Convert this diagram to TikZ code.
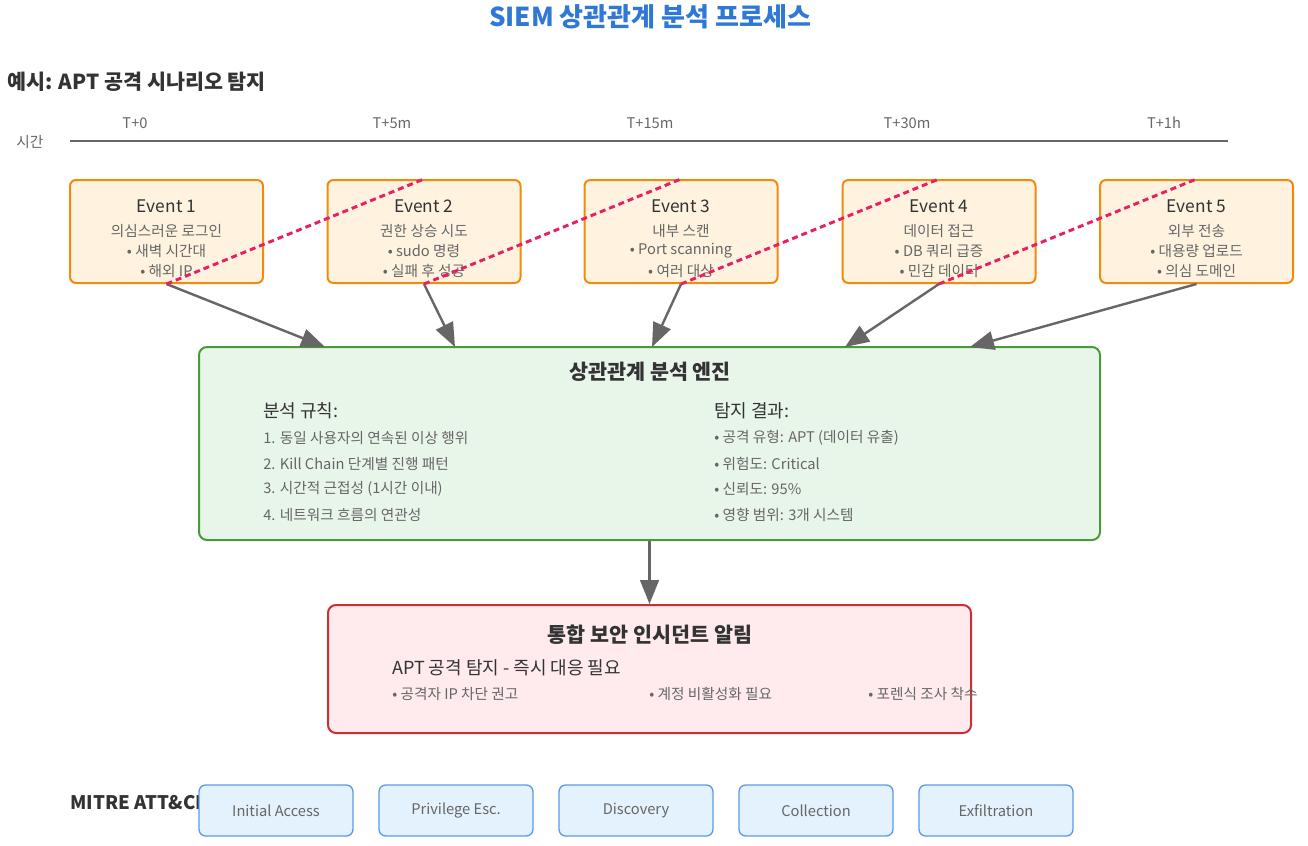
\documentclass[tikz,border=0pt]{standalone}
\usepackage{fontspec}
\setmainfont{Noto Sans CJK KR}
\usetikzlibrary{arrows.meta}
\definecolor{titleblue}{HTML}{2F78D6}
\definecolor{dark}{HTML}{333333}
\definecolor{mid}{HTML}{666666}
\definecolor{evfill}{HTML}{FFF3E0}
\definecolor{evline}{HTML}{F28A0E}
\definecolor{engfill}{HTML}{E8F5E9}
\definecolor{engline}{HTML}{4A9A3C}
\definecolor{alfill}{HTML}{FFEBEE}
\definecolor{alline}{HTML}{CC2E33}
\definecolor{mifill}{HTML}{E3F2FD}
\definecolor{miline}{HTML}{5A9BE6}
\definecolor{pinkd}{HTML}{E91E63}
\newcommand{\fs}[1]{\fontsize{#1pt}{#1pt}\selectfont}
\tikzset{
  evbox/.style={draw=evline, fill=evfill, line width=1.5pt, rounded corners=4.5pt, minimum width=144.75pt, minimum height=77.25pt, inner sep=0pt},
  engbox/.style={draw=engline, fill=engfill, line width=1.5pt, rounded corners=6pt, minimum width=675.75pt, minimum height=144.75pt, inner sep=0pt},
  albox/.style={draw=alline, fill=alfill, line width=1.5pt, rounded corners=6pt, minimum width=482.25pt, minimum height=96pt, inner sep=0pt},
  mibox/.style={draw=miline, fill=mifill, line width=1pt, rounded corners=5pt, minimum width=115.5pt, minimum height=38.25pt, inner sep=0pt, text=mid, font=\fs{11}},
  evtitle/.style={text=dark, font=\fs{13}, inner sep=0pt},
  evline/.style={text=mid, font=\fs{11}, inner sep=0pt},
  tline/.style={text=mid, font=\fs{11}, inner sep=0pt},
  head/.style={text=dark, font=\bfseries\fs{15.5}, inner sep=0pt},
  subhead/.style={text=dark, font=\fs{13.5}, inner sep=0pt, anchor=west},
  item/.style={text=mid, font=\fs{11}, inner sep=0pt, anchor=west},
  flow/.style={draw=mid, line width=1.8pt, -{Triangle[length=18pt,width=14pt]}},
  link/.style={draw=pinkd, line width=2.2pt, dash pattern=on 4.5pt off 3pt}
}
\begin{document}
\begin{tikzpicture}[x=0.75pt,y=-0.75pt]
\useasboundingbox (0,0) rectangle (1308,845);
\fill[white] (0,0) rectangle (1308,845);
% titles
\node[text=titleblue, font=\bfseries\fs{19.5}, inner sep=0pt] (title) at (650,17) {SIEM 상관관계 분석 프로세스};
\node[text=dark, font=\bfseries\fs{15.5}, inner sep=0pt, anchor=west] (sub) at (7,82) {예시: APT 공격 시나리오 탐지};
% timeline
\node[tline, anchor=west] (tlab) at (16,142) {시간};
\coordinate (tl0) at (70,141);
\coordinate (tl1) at (1228,141);
\draw[mid, line width=2.2pt] (tl0) -- (tl1);
\node[tline] (t0) at (135,123) {T+0};
\node[tline] (t1) at (392,123) {T+5m};
\node[tline] (t2) at (650,123) {T+15m};
\node[tline] (t3) at (907,123) {T+30m};
\node[tline] (t4) at (1164,123) {T+1h};
% events
\node[evbox] (e1) at (166.5,231.5) {};
\node[evbox] (e2) at (424,231.5) {};
\node[evbox] (e3) at (681,231.5) {};
\node[evbox] (e4) at (939,231.5) {};
\node[evbox] (e5) at (1196.5,231.5) {};
\node[evtitle] (e1a) at (166.5,206) {Event 1};
\node[evline] (e1b) at (166.5,231) {의심스러운 로그인};
\node[evline] (e1c) at (166.5,251) {• 새벽 시간대};
\node[evline] (e1d) at (166.5,271) {• 해외 IP};
\node[evtitle] (e2a) at (424,206) {Event 2};
\node[evline] (e2b) at (424,231) {권한 상승 시도};
\node[evline] (e2c) at (424,251) {• sudo 명령};
\node[evline] (e2d) at (424,271) {• 실패 후 성공};
\node[evtitle] (e3a) at (681,206) {Event 3};
\node[evline] (e3b) at (681,231) {내부 스캔};
\node[evline] (e3c) at (681,251) {• Port scanning};
\node[evline] (e3d) at (681,271) {• 여러 대상};
\node[evtitle] (e4a) at (939,206) {Event 4};
\node[evline] (e4b) at (939,231) {데이터 접근};
\node[evline] (e4c) at (939,251) {• DB 쿼리 급증};
\node[evline] (e4d) at (939,271) {• 민감 데이터};
\node[evtitle] (e5a) at (1196.5,206) {Event 5};
\node[evline] (e5b) at (1196.5,231) {외부 전송};
\node[evline] (e5c) at (1196.5,251) {• 대용량 업로드};
\node[evline] (e5d) at (1196.5,271) {• 의심 도메인};
% engine
\node[engbox] (eng) at (649.5,443.5) {};
\node[head] (engt) at (650,372) {상관관계 분석 엔진};
\node[subhead] (r0) at (263,411) {분석 규칙:};
\node[item] (r1) at (263,438) {1. 동일 사용자의 연속된 이상 행위};
\node[item] (r2) at (263,464) {2. Kill Chain 단계별 진행 패턴};
\node[item] (r3) at (263,489) {3. 시간적 근접성 (1시간 이내)};
\node[item] (r4) at (263,515) {4. 네트워크 흐름의 연관성};
\node[subhead] (d0) at (714,411) {탐지 결과:};
\node[item] (d1) at (714,438) {• 공격 유형: APT (데이터 유출)};
\node[item] (d2) at (714,464) {• 위험도: Critical};
\node[item] (d3) at (714,489) {• 신뢰도: 95\%};
\node[item] (d4) at (714,515) {• 영향 범위: 3개 시스템};
% arrows events -> engine
\coordinate (g1) at (325,347);
\coordinate (g2) at (455,347);
\coordinate (g3) at (652,347);
\coordinate (g4) at (845,347);
\coordinate (g5) at (970,347);
\draw[flow] (e1.south) -- (g1);
\draw[flow] (e2.south) -- (g2);
\draw[flow] (e3.south) -- (g3);
\draw[flow] (e4.south) -- (g4);
\draw[flow] (e5.south) -- (g5);
% correlation links
\draw[link] (e1.south) -- (e2.north);
\draw[link] (e2.south) -- (e3.north);
\draw[link] (e3.south) -- (e4.north);
\draw[link] (e4.south) -- (e5.north);
% alert
\node[albox] (al) at (649.5,669) {};
\draw[flow] (eng.south) -- (al.north);
\node[head] (alt) at (650,635) {통합 보안 인시던트 알림};
\node[subhead] (a0) at (392,668) {APT 공격 탐지 - 즉시 대응 필요};
\node[item] (a1) at (392,694) {• 공격자 IP 차단 권고};
\node[item] (a2) at (649,694) {• 계정 비활성화 필요};
\node[item] (a3) at (868,694) {• 포렌식 조사 착수};
% MITRE
\node[text=dark, font=\bfseries\fs{14}, inner sep=0pt, anchor=west] (mt) at (70,803) {MITRE ATT\&CK};
\node[mibox] (m1) at (276,810.5) {Initial Access};
\node[mibox] (m2) at (456,810.5) {Privilege Esc.};
\node[mibox] (m3) at (636,810.5) {Discovery};
\node[mibox] (m4) at (816,810.5) {Collection};
\node[mibox] (m5) at (996,810.5) {Exfiltration};
\end{tikzpicture}
\end{document}
